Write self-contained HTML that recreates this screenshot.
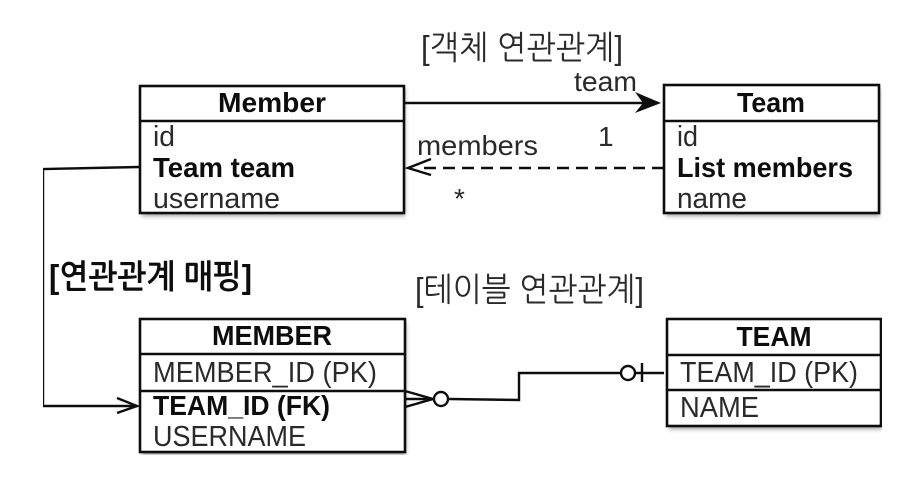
<!DOCTYPE html>
<html lang="ko">
<head>
<meta charset="utf-8">
<style>
html,body{margin:0;padding:0;background:#fff;width:914px;height:490px;overflow:hidden}
svg{display:block}
text{font-family:"Liberation Sans","Noto Sans CJK KR",sans-serif;fill:#2a2a2a}
.b{font-weight:bold;fill:#111}
.k{font-family:"Liberation Sans","NanumGothic","Noto Sans CJK KR",sans-serif}
.l{fill:none;stroke:#111;stroke-width:2.4}
.box{fill:#fff;stroke:#111;stroke-width:2.6}
.shadow{fill:#555;filter:url(#blur);opacity:.6}
</style>
</head>
<body>
<svg width="914" height="490" viewBox="0 0 914 490" xmlns="http://www.w3.org/2000/svg">
<defs>
<filter id="blur" x="-10%" y="-10%" width="120%" height="120%"><feGaussianBlur stdDeviation="2"/></filter>
<filter id="soft" x="0" y="0" width="100%" height="100%"><feGaussianBlur stdDeviation="0.35"/></filter>
</defs>
<rect width="914" height="490" fill="#fff"/>
<g filter="url(#soft)">
<rect class="shadow" x="142" y="89" width="263" height="127"/>
<rect class="shadow" x="666" y="88" width="214" height="128"/>
<rect class="shadow" x="142" y="322" width="264" height="133"/>
<rect class="shadow" x="669" y="322" width="213" height="107"/>

<rect class="box" x="140" y="86" width="264" height="127"/>
<line class="l" x1="140" y1="121" x2="404" y2="121"/>
<rect class="box" x="664" y="85" width="215" height="128"/>
<line class="l" x1="664" y1="121" x2="879" y2="121"/>
<rect class="box" x="140" y="319" width="265" height="133"/>
<line class="l" x1="140" y1="354" x2="405" y2="354"/>
<line class="l" x1="140" y1="391" x2="405" y2="391"/>
<rect class="box" x="667" y="319" width="214" height="107"/>
<line class="l" x1="667" y1="355" x2="881" y2="355"/>
<line class="l" x1="667" y1="390" x2="881" y2="390"/>

<!-- connectors -->
<line class="l" x1="405" y1="103" x2="650" y2="103"/>
<polygon points="661,103 635,92 643,103 635,113" fill="#111"/>
<line class="l" x1="664" y1="168" x2="420" y2="168" stroke-dasharray="12 7"/>
<polyline class="l" points="431,159 408,168 431,175"/>
<polyline class="l" points="139,167 43,169 43,406 137,406"/>
<polyline class="l" points="117,398 137,406 117,413"/>
<polyline class="l" points="405,391 433,399 405,407"/>
<line class="l" x1="405" y1="399" x2="433" y2="399"/>
<circle cx="441" cy="399" r="7" fill="#fff" stroke="#111" stroke-width="2.4"/>
<polyline class="l" points="449,399 519,400 519,373 620,373"/>
<circle cx="628" cy="373" r="7" fill="#fff" stroke="#111" stroke-width="2.4"/>
<line class="l" x1="636" y1="373" x2="664" y2="373"/>
<line class="l" x1="642" y1="363" x2="642" y2="382"/>

<!-- Member -->
<text class="b" x="272" y="112" font-size="28" text-anchor="middle" textLength="108" lengthAdjust="spacingAndGlyphs">Member</text>
<text x="153" y="146" font-size="29" textLength="22" lengthAdjust="spacingAndGlyphs">id</text>
<text class="b" x="153" y="177" font-size="28" textLength="142" lengthAdjust="spacingAndGlyphs">Team team</text>
<text x="153" y="208" font-size="29" textLength="127" lengthAdjust="spacingAndGlyphs">username</text>

<!-- Team -->
<text class="b" x="771" y="112" font-size="28" text-anchor="middle" textLength="68" lengthAdjust="spacingAndGlyphs">Team</text>
<text x="677" y="146" font-size="29" textLength="21" lengthAdjust="spacingAndGlyphs">id</text>
<text class="b" x="677" y="177" font-size="28" textLength="176" lengthAdjust="spacingAndGlyphs">List members</text>
<text x="677" y="208" font-size="29" textLength="70" lengthAdjust="spacingAndGlyphs">name</text>

<!-- MEMBER -->
<text class="b" x="272" y="345" font-size="28" text-anchor="middle" textLength="120" lengthAdjust="spacingAndGlyphs">MEMBER</text>
<text x="153" y="382" font-size="29" textLength="224" lengthAdjust="spacingAndGlyphs">MEMBER_ID (PK)</text>
<text class="b" x="153" y="415" font-size="28" textLength="177" lengthAdjust="spacingAndGlyphs">TEAM_ID (FK)</text>
<text x="153" y="446" font-size="29" textLength="153" lengthAdjust="spacingAndGlyphs">USERNAME</text>

<!-- TEAM -->
<text class="b" x="774" y="346" font-size="28" text-anchor="middle" textLength="75" lengthAdjust="spacingAndGlyphs">TEAM</text>
<text x="680" y="382" font-size="29" textLength="178" lengthAdjust="spacingAndGlyphs">TEAM_ID (PK)</text>
<text x="680" y="417" font-size="29" textLength="79" lengthAdjust="spacingAndGlyphs">NAME</text>

<!-- labels -->
<text x="574" y="91" font-size="28" textLength="63" lengthAdjust="spacingAndGlyphs">team</text>
<text x="417" y="155" font-size="28" textLength="121" lengthAdjust="spacingAndGlyphs">members</text>
<text x="598" y="146" font-size="28">1</text>
<text x="454" y="208" font-size="28">*</text>
<text class="k" x="421" y="59" font-size="33" textLength="202" lengthAdjust="spacingAndGlyphs">[객체 연관관계]</text>
<text class="k b" x="49" y="288" font-size="33" textLength="203" lengthAdjust="spacingAndGlyphs">[연관관계 매핑]</text>
<text class="k" x="415" y="301" font-size="33" textLength="229" lengthAdjust="spacingAndGlyphs">[테이블 연관관계]</text>
</g>
</svg>
</body>
</html>
